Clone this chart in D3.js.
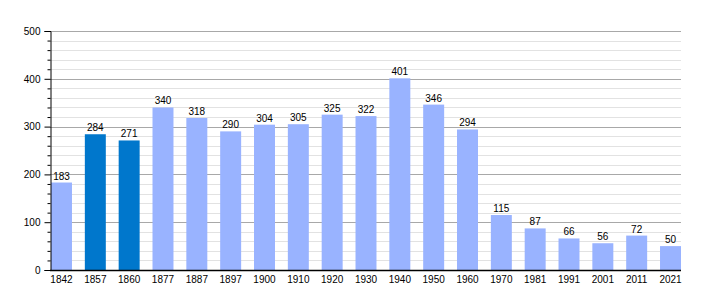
<!DOCTYPE html>
<html>
<head>
<meta charset="utf-8">
<script src="https://cdn.jsdelivr.net/npm/d3@7"></script>
<style>
  body { margin: 0; background: #fff; }
  text { font-family: "Liberation Sans", Arial, sans-serif; font-size: 10px; fill: #000; }
</style>
</head>
<body>
<div id="vis"></div>
<script>
var years = ["1842", "1857", "1860", "1877", "1887", "1897", "1900", "1910", "1920", "1930",
             "1940", "1950", "1960", "1970", "1981", "1991", "2001", "2011", "2021"];
var population = [183, 284, 271, 340, 318, 290, 304, 305, 325, 322,
                  401, 346, 294, 115, 87, 66, 56, 72, 50];
var highlighted = ["1857", "1860"];
var majorTicks = [0, 100, 200, 300, 400, 500];

var width = 710, height = 300;
var plotLeft = 50, plotRight = 681, plotTop = 31, plotBottom = 270;

var svg = d3.select("#vis").append("svg")
  .attr("width", width)
  .attr("height", height);

var x = d3.scaleBand()
  .domain(years)
  .range([plotLeft + 1, plotRight])
  .paddingInner(0.38)
  .paddingOuter(0);

var y = d3.scaleLinear()
  .domain([0, 500])
  .range([plotBottom, plotTop]);

// minor grid every 20
var minor = d3.range(0, 501, 20).filter(function(d) { return d % 100 != 0; });
svg.append("g").selectAll("line")
  .data(minor)
  .enter().append("line")
    .attr("x1", plotLeft).attr("x2", plotRight)
    .attr("y1", function(d) { return Math.round(y(d)) + 0.5; })
    .attr("y2", function(d) { return Math.round(y(d)) + 0.5; })
    .attr("stroke", "#e2e2e2");

// major grid
svg.append("g").selectAll("line")
  .data(majorTicks.slice(1))
  .enter().append("line")
    .attr("x1", plotLeft).attr("x2", plotRight)
    .attr("y1", function(d) { return Math.round(y(d)) + 0.5; })
    .attr("y2", function(d) { return Math.round(y(d)) + 0.5; })
    .attr("stroke", "#a8a8a8");

// bars
svg.append("g").selectAll("rect")
  .data(years)
  .enter().append("rect")
    .attr("x", function(d) { return x(d); })
    .attr("width", x.bandwidth())
    .attr("y", function(d, i) { return y(population[i]); })
    .attr("height", function(d, i) { return plotBottom - y(population[i]); })
    .attr("fill", function(d) { return highlighted.indexOf(d) >= 0 ? "#0077cc" : "#99b3ff"; });

// value labels
svg.append("g").selectAll("text")
  .data(years)
  .enter().append("text")
    .attr("x", function(d) { return x(d) + x.bandwidth() / 2; })
    .attr("y", function(d, i) { return y(population[i]) - 3; })
    .attr("text-anchor", "middle")
    .text(function(d, i) { return population[i]; });

// y axis with minor ticks
var yAxis = svg.append("g")
  .attr("transform", "translate(" + (plotLeft + 0.5) + ",0)")
  .call(d3.axisLeft(y).tickValues(majorTicks).tickSize(6).tickPadding(4));
yAxis.select(".domain").attr("stroke", "#000");
yAxis.selectAll("text").attr("font-family", null).attr("font-size", null);

svg.append("g")
  .attr("transform", "translate(" + (plotLeft + 0.5) + ",0)")
  .call(d3.axisLeft(y).tickValues(minor).tickSize(3).tickFormat(""))
  .select(".domain").remove();

// x axis
var xAxis = svg.append("g")
  .attr("transform", "translate(0," + (plotBottom + 0.5) + ")")
  .call(d3.axisBottom(x).tickSize(0).tickPadding(5));
xAxis.select(".domain").attr("d", "M" + plotLeft + ",0H" + plotRight).attr("stroke", "#000").attr("stroke-width", 1.5);
xAxis.selectAll("text").attr("font-family", null).attr("font-size", null);
</script>
</body>
</html>
